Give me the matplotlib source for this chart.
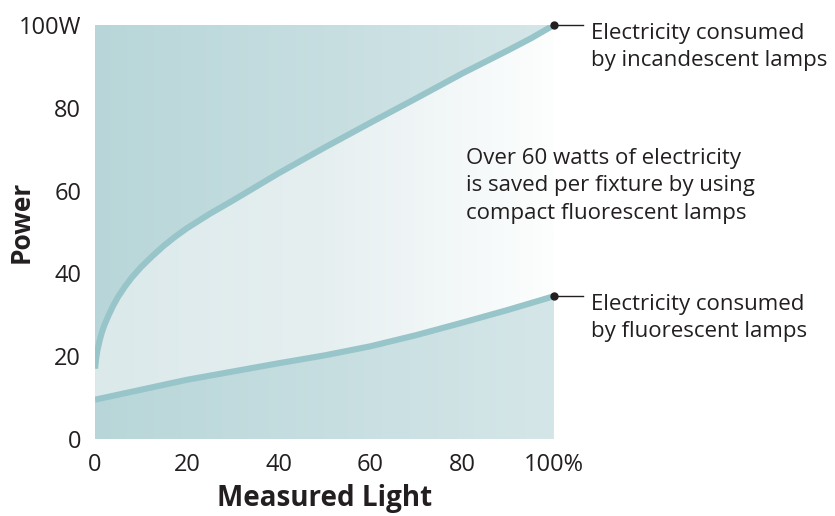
import numpy as np
import matplotlib
matplotlib.use("Agg")
import matplotlib.pyplot as plt
from matplotlib.colors import LinearSegmentedColormap
from matplotlib.patches import Polygon

# values
light_inc = [0, 0.25, 0.5, 1, 1.5, 2, 3, 4, 5, 6.5, 8, 10, 12.5, 15, 17.5, 20,
             25, 30, 35, 40, 50, 60, 70, 80, 90, 95, 100]
power_inc = [17, 19.5, 21.3, 23.8, 25.8, 27.4, 30, 32.3, 34.3, 36.8, 39, 41.5, 44.2, 46.7, 48.9, 50.9,
             54.4, 57.6, 60.9, 64.2, 70.4, 76.4, 82.3, 88.3, 93.9, 96.8, 100]

light_fl = [0, 10, 20, 30, 40, 50, 60, 70, 80, 90, 100]
power_fl = [9.5, 11.9, 14.3, 16.3, 18.3, 20.2, 22.4, 25.1, 28.1, 31.2, 34.5]

x_ticks = [0, 20, 40, 60, 80, 100]
x_labels = ["0", "20", "40", "60", "80", "100%"]
y_ticks = [0, 20, 40, 60, 80, 100]
y_labels = ["0", "20", "40", "60", "80", "100W"]

plt.rcParams["font.family"] = ["Open Sans", "DejaVu Sans"]

fig = plt.figure(figsize=(8.35, 5.16), dpi=100)
ax = fig.add_axes([0.1138, 0.1492, 0.5497, 0.8023])

line_color = "#98c5c9"
text_color = "#231f20"

# background gradients
outer_cmap = LinearSegmentedColormap.from_list("outer", ["#b8d6d9", "#d5e6e8"])
inner_cmap = LinearSegmentedColormap.from_list("inner", ["#dbe9eb", "#e6eff0", "#fdfefe"])
grad = np.linspace(0, 1, 256).reshape(1, -1)
ax.imshow(grad, extent=[0, 100, 0, 100], aspect="auto", cmap=outer_cmap, zorder=0)
inner = ax.imshow(grad, extent=[0, 100, 0, 100], aspect="auto", cmap=inner_cmap, zorder=1)

# region between the two curves
pts = np.column_stack([
    np.concatenate([light_inc, light_fl[::-1]]),
    np.concatenate([power_inc, power_fl[::-1]]),
])
band = Polygon(pts, closed=True, facecolor="none", edgecolor="none", transform=ax.transData)
ax.add_patch(band)
inner.set_clip_path(band)

ax.plot(light_inc, power_inc, color=line_color, lw=4.4, solid_capstyle="butt",
        solid_joinstyle="round", zorder=3)
ax.plot(light_fl, power_fl, color=line_color, lw=4.4, solid_capstyle="butt",
        solid_joinstyle="round", zorder=3)

# end markers with leader lines
for yv in [power_inc[-1], power_fl[-1]]:
    ax.plot([light_inc[-1], 106.3], [yv, yv], color=text_color, lw=1.0, clip_on=False, zorder=4)
    ax.plot([light_inc[-1]], [yv], "o", color=text_color, ms=5, clip_on=False, zorder=5)

ax.text(108, power_inc[-1] + 0.6, "Electricity consumed\nby incandescent lamps",
        fontsize=16, color=text_color, va="top", ha="left", linespacing=1.4, clip_on=False)
ax.text(108, power_fl[-1] + 0.6, "Electricity consumed\nby fluorescent lamps",
        fontsize=16, color=text_color, va="top", ha="left", linespacing=1.4, clip_on=False)
ax.text(80.8, 70.3, "Over 60 watts of electricity\nis saved per fixture by using\ncompact fluorescent lamps",
        fontsize=16, color=text_color, va="top", ha="left", linespacing=1.4, clip_on=False, zorder=6)

ax.set_xlim(0, 100)
ax.set_ylim(0, 100)
ax.set_xticks(x_ticks)
ax.set_xticklabels(x_labels)
ax.set_yticks(y_ticks)
ax.set_yticklabels(y_labels)
ax.tick_params(length=0, labelsize=17, colors=text_color, pad=10)
for s in ax.spines.values():
    s.set_visible(False)

ax.set_xlabel("Measured Light", fontsize=20, fontweight="bold", color=text_color, labelpad=5)
fig.text(21 / 835, 1 - 222 / 516, "Power", rotation=90, fontsize=19, fontweight="bold",
         color=text_color, ha="center", va="center")

fig.savefig("out.png", dpi=100)
